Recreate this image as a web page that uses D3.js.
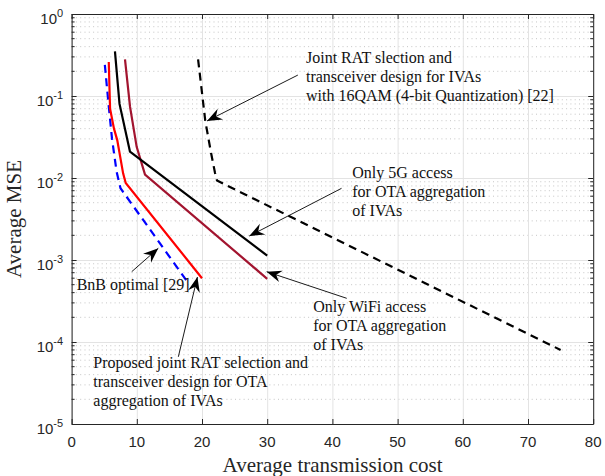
<!DOCTYPE html>
<html>
<head>
<meta charset="utf-8">
<script src="https://cdn.jsdelivr.net/npm/d3@7"></script>
<style>
  body { margin: 0; background: #fff; }
  svg { display: block; }
  .serif { font-family: "Liberation Serif", "Times New Roman", serif; }
  .tick-label { font-family: "Liberation Sans", Arial, sans-serif; fill: #262626; }
</style>
</head>
<body>
<script>
// cost (x) vs MSE (y)
const bnbX = [5.1, 5.6, 6.2, 6.9, 7.5, 17.7];
const bnbY = [0.24, 0.09, 0.03, 0.012, 0.0075, 0.00055];

const proposedX = [5.7, 5.9, 6.5, 7.0, 7.9, 8.3, 20];
const proposedY = [0.26, 0.07, 0.04, 0.029, 0.0114, 0.0087, 0.0006];

const only5gX = [6.65, 7.05, 7.35, 8.95, 30];
const only5gY = [0.35, 0.15, 0.08, 0.021, 0.00113];

const wifiX = [8.19, 8.96, 9.98, 11.26, 30];
const wifiY = [0.28, 0.074, 0.024, 0.011, 0.00059];

const qamX = [19.4, 20.5, 21.4, 22.0, 22.3, 75];
const qamY = [0.28, 0.05, 0.02, 0.0115, 0.0093, 0.00008];

const xTicks = [0, 10, 20, 30, 40, 50, 60, 70, 80];
const yDecades = [0, -1, -2, -3, -4, -5];

const notes = [
  {lines: ["Joint RAT slection and", "transceiver design for IVAs", "with 16QAM (4-bit Quantization) [22]"],
   tx: 35.95, ty: 0.255, from: [34.7, 0.18], to: [20.77, 0.0496]},
  {lines: ["Only 5G access", "for OTA aggregation", "of IVAs"],
   tx: 43.05, ty: 0.01, from: [41.4, 0.00748], to: [27.25, 0.00196]},
  {lines: ["Only WiFi access", "for OTA aggregation", "of IVAs"],
   tx: 37.07, ty: 0.000234, from: [42.2, 0.000341], to: [29.92, 0.00072]},
  {lines: ["BnB optimal [29]"],
   tx: 0.78, ty: 0.00043, from: [9.22, 0.00072], to: [13.3, 0.00139]},
  {lines: ["Proposed joint RAT selection and", "transceiver design for OTA", "aggregation of IVAs"],
   tx: 3.33, ty: 0.000048, from: [16.37, 0.000066], to: [19.3, 0.00062]}
];

const W = 605, H = 476;
const margin = {top: 14, right: 12, bottom: 52, left: 71.6};
const innerW = 593.2 - margin.left;
const innerH = 424 - margin.top;

const svg = d3.select('body').append('svg').attr('width', W).attr('height', H);
const g = svg.append('g').attr('transform', `translate(${margin.left},${margin.top})`);

const x = d3.scaleLinear().domain([0, 80]).range([0, innerW]);
const y = d3.scaleLog().domain([1e-5, 1]).range([innerH, 0]);

// minor y grid (dotted)
const minorY = [];
yDecades.slice(1).forEach(e => { for (let k = 2; k <= 9; k++) minorY.push(k * Math.pow(10, e)); });

g.selectAll('line.minor').data(minorY)
  .join('line')
    .attr('class', 'minor')
    .attr('x1', 0).attr('x2', innerW)
    .attr('y1', d => y(d)).attr('y2', d => y(d))
    .attr('stroke', '#b8b8b8')
    .attr('stroke-width', 0.8)
    .attr('stroke-dasharray', '1,3.3');

// major grid
g.append('g')
  .call(d3.axisBottom(x).tickValues(xTicks).tickSize(innerH).tickFormat(''))
  .call(a => a.select('.domain').remove())
  .call(a => a.selectAll('line').attr('stroke', '#e3e3e3'));

g.append('g')
  .call(d3.axisLeft(y).tickValues(yDecades.map(e => Math.pow(10, e))).tickSize(-innerW).tickFormat(''))
  .call(a => a.select('.domain').remove())
  .call(a => a.selectAll('line').attr('stroke', '#e3e3e3'));

// curves
const line = d3.line().x(d => x(d[0])).y(d => y(d[1]));
const zip = (xs, ys) => xs.map((v, i) => [v, ys[i]]);

const series = [
  {data: zip(qamX, qamY), color: '#000', dash: '8,5.5'},
  {data: zip(wifiX, wifiY), color: '#a2142f', dash: null},
  {data: zip(only5gX, only5gY), color: '#000', dash: null},
  {data: zip(bnbX, bnbY), color: '#0000ff', dash: '8,5.5'},
  {data: zip(proposedX, proposedY), color: '#ff0000', dash: null}
];

g.selectAll('path.series').data(series)
  .join('path')
    .attr('class', 'series')
    .attr('d', d => line(d.data))
    .attr('fill', 'none')
    .attr('stroke', d => d.color)
    .attr('stroke-width', 2.2)
    .attr('stroke-dasharray', d => d.dash);

// axes frame + ticks
const axisColor = '#262626';
const styleAxis = a => {
  a.select('.domain').attr('stroke', axisColor);
  a.selectAll('.tick line').attr('stroke', axisColor);
};

g.append('g').attr('transform', `translate(0,${innerH})`)
  .call(d3.axisBottom(x).tickValues(xTicks).tickSizeInner(-5).tickSizeOuter(0).tickFormat(''))
  .call(styleAxis);
g.append('g')
  .call(d3.axisTop(x).tickValues(xTicks).tickSizeInner(-5).tickSizeOuter(0).tickFormat(''))
  .call(styleAxis);
g.append('g')
  .call(d3.axisLeft(y).tickValues(yDecades.map(e => Math.pow(10, e))).tickSizeInner(-5).tickSizeOuter(0).tickFormat(''))
  .call(styleAxis);
g.append('g').attr('transform', `translate(${innerW},0)`)
  .call(d3.axisRight(y).tickValues(yDecades.map(e => Math.pow(10, e))).tickSizeInner(-5).tickSizeOuter(0).tickFormat(''))
  .call(styleAxis);

// minor ticks y
[[0, 3], [innerW, -3]].forEach(([x0, len]) => {
  g.selectAll(null).data(minorY)
    .join('line')
      .attr('x1', x0).attr('x2', x0 + len)
      .attr('y1', d => y(d)).attr('y2', d => y(d))
      .attr('stroke', axisColor);
});

// tick labels
g.selectAll('text.xtick').data(xTicks)
  .join('text')
    .attr('class', 'tick-label xtick')
    .attr('x', d => x(d))
    .attr('y', innerH + 22.7)
    .attr('text-anchor', 'middle')
    .attr('font-size', 15)
    .text(d => d);

const ylab = g.selectAll('text.ytick').data(yDecades)
  .join('text')
    .attr('class', 'tick-label ytick')
    .attr('x', -8.5)
    .attr('y', d => y(Math.pow(10, d)) + 9.5)
    .attr('text-anchor', 'end')
    .attr('font-size', 15);
ylab.append('tspan').text('10');
ylab.append('tspan').attr('font-size', 11).attr('dy', -6.5).text(d => d === 0 ? '0' : `${d}`);

// axis titles
g.append('text').attr('class', 'serif')
  .attr('x', 261).attr('y', innerH + 47.7)
  .attr('text-anchor', 'middle').attr('font-size', 21).attr('fill', '#262626')
  .text('Average transmission cost');

g.append('text').attr('class', 'serif')
  .attr('transform', `translate(${-51},${innerH / 2}) rotate(-90)`)
  .attr('text-anchor', 'middle').attr('font-size', 21).attr('fill', '#262626')
  .text('Average MSE');

// annotations
const ann = g.selectAll('g.note').data(notes).join('g').attr('class', 'note');

ann.append('text').attr('class', 'serif')
  .attr('font-size', 16).attr('fill', '#111')
  .selectAll('tspan').data(d => d.lines.map(l => ({l, d})))
  .join('tspan')
    .attr('x', d => x(d.d.tx))
    .attr('y', (d, i) => y(d.d.ty) + i * 19)
    .text(d => d.l);

ann.append('line')
  .attr('x1', d => x(d.from[0])).attr('y1', d => y(d.from[1]))
  .attr('x2', d => x(d.to[0])).attr('y2', d => y(d.to[1]))
  .attr('stroke', '#000').attr('stroke-width', 0.9);

ann.append('path')
  .attr('d', 'M0,0 L-15,-6 L-10,0 L-15,6 Z')
  .attr('fill', '#000')
  .attr('transform', d => {
    const x1 = x(d.from[0]), y1 = y(d.from[1]), x2 = x(d.to[0]), y2 = y(d.to[1]);
    const ang = Math.atan2(y2 - y1, x2 - x1) * 180 / Math.PI;
    return `translate(${x2},${y2}) rotate(${ang})`;
  });
</script>
</body>
</html>
